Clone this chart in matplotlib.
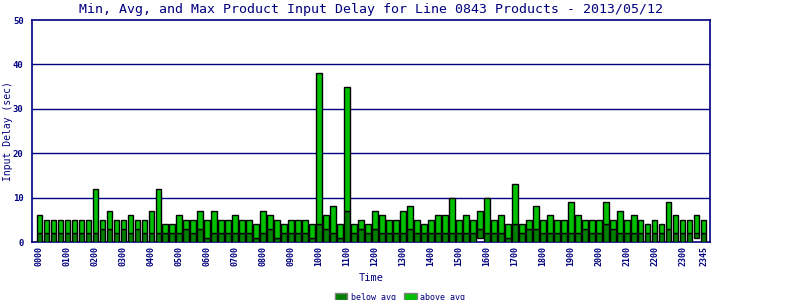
import matplotlib
matplotlib.use("Agg")
import matplotlib.pyplot as plt
from matplotlib.patches import Patch

# 15-minute slots through the day
slots = [f"{h:02d}{m:02d}" for h in range(24) for m in (0, 15, 30, 45)]

min_delay = [0] * 96
min_delay[63] = 1
min_delay[94] = 1

avg_delay = [2, 2, 2, 2, 2, 2, 2, 2, 2, 3, 3, 2, 3, 2, 3, 2,
             2, 2, 2, 2, 2, 3, 2, 3, 1, 2, 2, 2, 2, 2, 2, 1,
             2, 3, 1, 2, 2, 2, 2, 1, 4, 3, 2, 1, 7, 2, 3, 2,
             3, 2, 2, 2, 2, 3, 2, 2, 2, 2, 2, 2, 2, 2, 2, 3,
             2, 2, 2, 1, 4, 2, 3, 3, 2, 2, 2, 2, 2, 2, 3, 2,
             2, 4, 3, 2, 2, 2, 2, 2, 2, 2, 3, 2, 2, 2, 2, 2]

max_delay = [6, 5, 5, 5, 5, 5, 5, 5, 12, 5, 7, 5, 5, 6, 5, 5,
             7, 12, 4, 4, 6, 5, 5, 7, 5, 7, 5, 5, 6, 5, 5, 4,
             7, 6, 5, 4, 5, 5, 5, 4, 38, 6, 8, 4, 35, 4, 5, 4,
             7, 6, 5, 5, 7, 8, 5, 4, 5, 6, 6, 10, 5, 6, 5, 7,
             10, 5, 6, 4, 13, 4, 5, 8, 5, 6, 5, 5, 9, 6, 5, 5,
             5, 9, 5, 7, 5, 6, 5, 4, 5, 4, 9, 6, 5, 5, 6, 5]

NAVY = "#000080"
DARK = "#008000"
LIGHT = "#00c000"
MONO = "DejaVu Sans Mono"

fig = plt.figure(figsize=(8, 3), dpi=100)
ax = fig.add_axes([0.04, 0.1933, 0.8475, 0.74])

x = list(range(len(slots)))
lo = [a - m for a, m in zip(avg_delay, min_delay)]
hi = [mx - a for mx, a in zip(max_delay, avg_delay)]
ax.bar(x, lo, bottom=min_delay, width=0.78, color=DARK, edgecolor="black",
       lw=1.0, zorder=3)
ax.bar(x, hi, bottom=avg_delay, width=0.78, color=LIGHT, edgecolor="black",
       lw=1.0, zorder=3)

ax.set_xlim(-1.05, 95.9)
ax.set_ylim(0, 50)
ax.set_yticks(range(0, 51, 10))
for yy in range(10, 50, 10):
    ax.axhline(yy, color=NAVY, lw=1.0, zorder=1)

ticks = list(range(0, 96, 4)) + [95]
ax.set_xticks(ticks)
ax.set_xticklabels([slots[i] for i in ticks], rotation=90)
ax.tick_params(length=0, colors=NAVY)
ax.tick_params(axis="x", labelsize=6, pad=3)
ax.tick_params(axis="y", labelsize=6.5, pad=6)
for lab in ax.get_xticklabels() + ax.get_yticklabels():
    lab.set_family(MONO)
    lab.set_fontweight("bold")
for sp in ax.spines.values():
    sp.set_color(NAVY)
    sp.set_linewidth(1.2)

ax.set_title("Min, Avg, and Max Product Input Delay for Line 0843 Products - 2013/05/12",
             family=MONO, color=NAVY, fontsize=9.5, pad=5)
ax.set_xlabel("Time", family=MONO, color=NAVY, fontsize=7.5)
ax.xaxis.set_label_coords(0.5, -0.14)
ax.set_ylabel("Input Delay (sec)", family=MONO, color=NAVY, fontsize=7)
ax.yaxis.set_label_coords(-0.028, 0.5)

handles = [Patch(fc=DARK, ec="#808080", lw=1.0, label="below avg"),
           Patch(fc=LIGHT, ec="#808080", lw=1.0, label="above avg")]
leg = fig.legend(handles=handles, loc="lower center", ncol=2, frameon=False,
                 bbox_to_anchor=(0.5, -0.03),
                 handlelength=1.5, handleheight=0.9, handletextpad=0.4,
                 columnspacing=1.0, prop={"family": MONO, "size": 6})
for t in leg.get_texts():
    t.set_color(NAVY)

fig.savefig("out.png", dpi=100)
